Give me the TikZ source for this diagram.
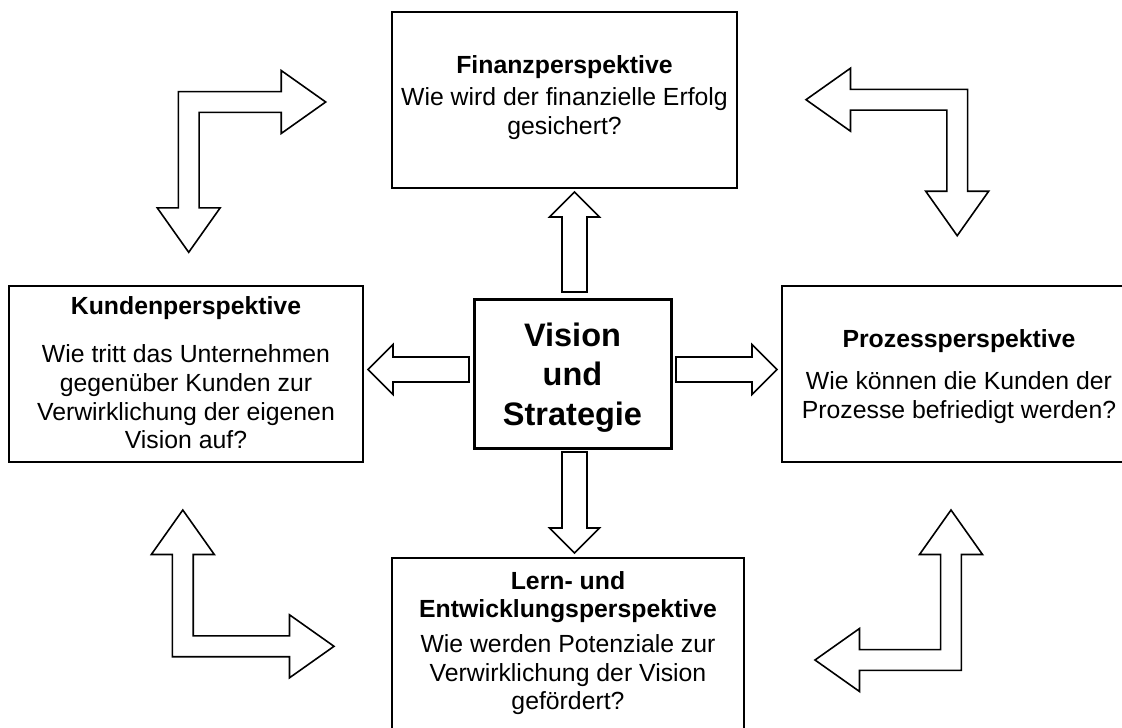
\documentclass[tikz,border=0pt]{standalone}
\usepackage{fontspec}
\setmainfont{Liberation Sans}
\usetikzlibrary{calc}

% sizes of the straight block arrows
\def\SbW{12.5pt}   % half shaft width
\def\SbH{25pt}     % half head width
\def\SbL{25pt}     % head length
% sizes of the L-shaped double block arrows (in picture units)
\def\ElbW{10.4}
\def\ElbH{31.5}
\def\ElbL{44.5}

% straight block arrow from coordinate #1 to coordinate #2
\newcommand\straightblock[2]{%
  \draw[blockarrow]
    ($(#1)!\SbW!90:(#2)$) --
    ($(#2)!\SbL!(#1)!\SbW!90:(#2)$) --
    ($(#2)!\SbL!(#1)!\SbH!90:(#2)$) --
    (#2) --
    ($(#2)!\SbL!(#1)!\SbH!-90:(#2)$) --
    ($(#2)!\SbL!(#1)!\SbW!-90:(#2)$) --
    ($(#1)!\SbW!-90:(#2)$) -- cycle;}

% L-shaped block arrow with two heads:
% corner (#1,#2), horizontal arm ends at x=#3, vertical arm ends at y=#4
\newcommand\elbowblock[4]{%
  \pgfmathsetmacro\ElbSx{sign(#3-#1)}%
  \pgfmathsetmacro\ElbSy{sign(#4-#2)}%
  \draw[blockarrow]
    ({#1-\ElbSx*\ElbW},{#2-\ElbSy*\ElbW}) --
    ({#3-\ElbSx*\ElbL},{#2-\ElbSy*\ElbW}) --
    ({#3-\ElbSx*\ElbL},{#2-\ElbSy*\ElbH}) --
    (#3,#2) --
    ({#3-\ElbSx*\ElbL},{#2+\ElbSy*\ElbH}) --
    ({#3-\ElbSx*\ElbL},{#2+\ElbSy*\ElbW}) --
    ({#1+\ElbSx*\ElbW},{#2+\ElbSy*\ElbW}) --
    ({#1+\ElbSx*\ElbW},{#4-\ElbSy*\ElbL}) --
    ({#1+\ElbSx*\ElbH},{#4-\ElbSy*\ElbL}) --
    (#1,#4) --
    ({#1-\ElbSx*\ElbH},{#4-\ElbSy*\ElbL}) --
    ({#1-\ElbSx*\ElbW},{#4-\ElbSy*\ElbL}) -- cycle;}

\begin{document}
\begin{tikzpicture}[x=1pt, y=-1pt,
  panel/.style={draw=black, line width=1.6pt, fill=white, inner sep=0pt,
    outer sep=0pt, align=center, font=\fontsize{24.8}{28.7}\selectfont},
  core/.style={draw=black, line width=3pt, fill=white, inner sep=0pt,
    outer sep=0pt, align=center, font=\fontsize{32.5}{39.5}\selectfont\bfseries},
  blockarrow/.style={draw=black, line width=1.6pt, fill=white, line join=miter}]

\useasboundingbox (0,0) rectangle (1122,728);
\fill[white] (0,0) rectangle (1122,728);
\clip (0,0) rectangle (1122,728);

% the five perspective boxes
\node[core, minimum width=197pt, minimum height=149pt] (vision) at (572.5,373.5)
  {\rule{0pt}{31pt}Vision\\und\\Strategie};

\node[panel, minimum width=345pt, minimum height=176pt] (finanz) at (564.5,100)
  {\textbf{Finanzperspektive}\\[4pt]Wie wird der finanzielle Erfolg\\gesichert?\rule[-10pt]{0pt}{0pt}};

\node[panel, minimum width=354pt, minimum height=176pt] (kunden) at (186,374)
  {\textbf{Kundenperspektive}\\[20pt]Wie tritt das Unternehmen\\gegenüber Kunden zur\\Verwirklichung der eigenen\\Vision auf?\rule[-3pt]{0pt}{0pt}};

\node[panel, minimum width=354pt, minimum height=176pt] (prozess) at (959,374)
  {\rule{0pt}{23pt}\textbf{Prozessperspektive}\\[13pt]Wie können die Kunden der\\Prozesse befriedigt werden?};

\node[panel, minimum width=352pt, minimum height=176pt] (lern) at (568,646)
  {\rule{0pt}{21pt}\textbf{Lern- und}\\\textbf{Entwicklungsperspektive}\\[6pt]Wie werden Potenziale zur\\Verwirklichung der Vision\\gefördert?\rule[-14pt]{0pt}{0pt}};

% arrows leaving the centre box
\coordinate (upA)    at ($(vision.north)+(2,-7)$);
\coordinate (upB)    at ($(vision.north |- finanz.south)+(2,4)$);
\coordinate (downA)  at ($(vision.south)+(2,4)$);
\coordinate (downB)  at ($(vision.south |- lern.north)+(2,-5)$);
\coordinate (leftA)  at ($(vision.west)+(-5,-4)$);
\coordinate (leftB)  at ($(vision.west -| kunden.east)+(5,-4)$);
\coordinate (rightA) at ($(vision.east)+(5,-4)$);
\coordinate (rightB) at ($(vision.east -| prozess.west)+(-5,-4)$);

\straightblock{upA}{upB}
\straightblock{downA}{downB}
\straightblock{leftA}{leftB}
\straightblock{rightA}{rightB}

% L-shaped arrows linking neighbouring perspectives
\elbowblock{188.7}{102}{325.7}{252.3}
\elbowblock{957.2}{99.7}{806}{235.7}
\elbowblock{182.8}{646.3}{334}{510}
\elbowblock{951}{660}{815}{510}

\end{tikzpicture}
\end{document}
